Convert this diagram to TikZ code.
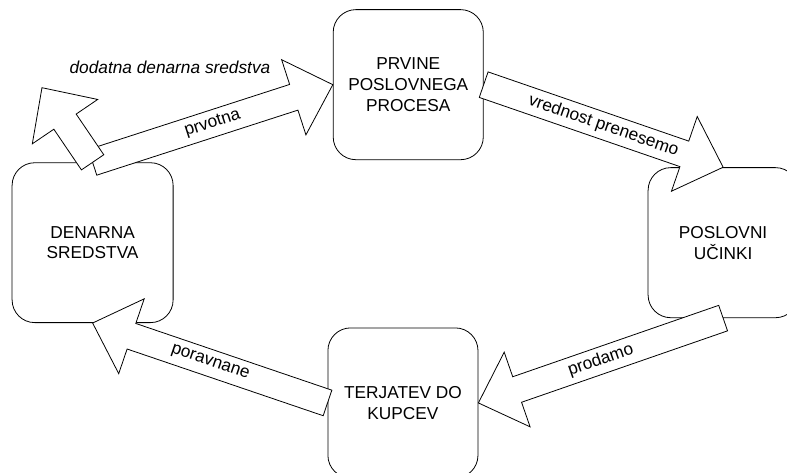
\documentclass[tikz,border=0pt]{standalone}
\usepackage{fontspec}
\setmainfont{Liberation Sans}
\setsansfont{Liberation Sans}
\usetikzlibrary{calc, positioning}
\definecolor{ink}{HTML}{000000}
\tikzset{
  font=\sffamily\fontsize{13}{15.75}\selectfont,
  %
  blok/.style={
    draw=ink, line width=0.6pt, fill=white, rounded corners=0.6cm,
    align=center, text=ink, inner sep=2pt,
    minimum width=3.97cm, minimum height=3.97cm,
  },
  %
  puscica/.style={draw=ink, line width=0.6pt, fill=white, line join=miter},
  %
  oznaka/.style={text=ink, inner sep=1pt},
  opomba/.style={oznaka, font={\sffamily\itshape\fontsize{13}{15.75}\selectfont}},
}
% block arrow between two points
\newcommand{\blokpuscica}[2]{%
  \draw[puscica] let \p1=($(#2)-(#1)$), \n1={atan2(\y1,\x1)},
      \n2={veclen(\x1,\y1)} in [shift={(#1)}, rotate=\n1]
    (0,-0.357cm) -- (\n2-1.085cm,-0.357cm) -- (\n2-1.085cm,-1.045cm)
    -- (\n2,0) -- (\n2-1.085cm,1.045cm) -- (\n2-1.085cm,0.357cm)
    -- (0,0.357cm) -- cycle;
}

\begin{document}
\begin{tikzpicture}[x=1cm, y=1cm]
  \path[use as bounding box, clip] (0,0) rectangle (20.82,12.51);

  % the four stations
  \node[blok] (prvine) at (10.80,10.27) {PRVINE\\POSLOVNEGA\\PROCESA};
  \node[blok, minimum width=4.26cm, minimum height=4.23cm]
    (denarna) at (2.45,6.09) {DENARNA\\SREDSTVA};
  \node[blok] (ucinki) at (19.13,6.09) {POSLOVNI\\UČINKI};
  \node[blok] (terjatev) at (10.66,1.85) {TERJATEV DO\\KUPCEV};

  \coordinate (dodatno) at (1.11,10.19);

  % the cycle
  \blokpuscica{denarna.north}{prvine.west}
  \blokpuscica{denarna.north}{dodatno}
  \blokpuscica{prvine.east}{ucinki.north}
  \blokpuscica{ucinki.south}{terjatev.east}
  \blokpuscica{terjatev.west}{denarna.south}

  \path (denarna.north) -- node[oznaka, sloped] {prvotna} (prvine.west);
  \path (prvine.east) -- node[oznaka, sloped] {vrednost prenesemo} (ucinki.north);
  \path (ucinki.south) -- node[oznaka, sloped] {prodamo} (terjatev.east);
  \path (terjatev.west) -- node[oznaka, sloped] {poravnane} (denarna.south);

  \node[opomba, anchor=west] (dodatna) at (1.80,10.74) {dodatna denarna sredstva};

\end{tikzpicture}
\end{document}
